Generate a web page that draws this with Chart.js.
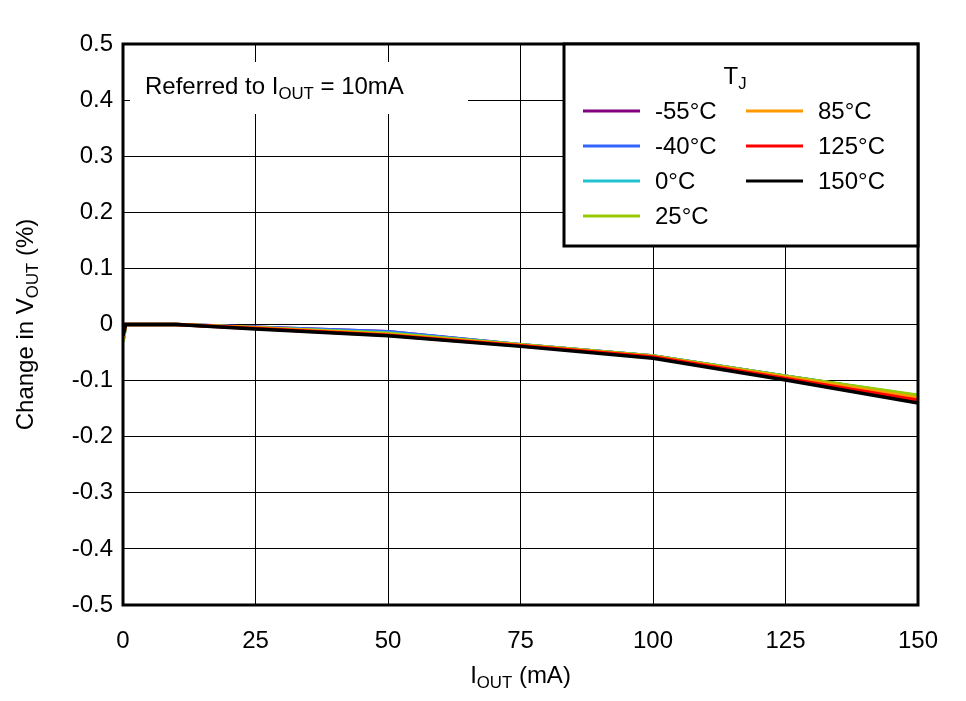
<!DOCTYPE html>
<html><head><meta charset="utf-8">
<script src="https://cdn.jsdelivr.net/npm/chart.js@4/dist/chart.umd.min.js"></script>
<style>html,body{margin:0;background:#fff}#wrap{width:966px;height:701px}</style>
</head><body><div id="wrap"><canvas id="c"></canvas></div>
<script>
const currents = [0, 0.5, 10, 25, 50, 75, 100, 125, 150];
const tempLabels = ["-55°C", "-40°C", "0°C", "25°C", "85°C", "125°C", "150°C"];
const colors = ["#800080", "#3366ff", "#22c3d0", "#99cc00", "#ff9900", "#ff0000", "#000000"];
const vMinus55 = [-0.03, 0, 0, -0.005, -0.013, -0.036, -0.056, -0.092, -0.128];
const vMinus40 = [-0.03, 0, 0, -0.005, -0.013, -0.036, -0.056, -0.092, -0.128];
const v0 = [-0.03, 0, 0, -0.006, -0.015, -0.036, -0.056, -0.092, -0.127];
const v25 = [-0.03, 0, 0, -0.006, -0.016, -0.036, -0.056, -0.092, -0.126];
const v85 = [-0.025, 0, 0, -0.006, -0.018, -0.037, -0.057, -0.094, -0.131];
const v125 = [-0.02, 0, 0, -0.007, -0.019, -0.038, -0.058, -0.096, -0.135];
const v150 = [-0.02, 0, 0, -0.008, -0.02, -0.039, -0.06, -0.099, -0.14];
const allSeries = [vMinus55, vMinus40, v0, v25, v85, v125, v150];
const xTicks = [0, 25, 50, 75, 100, 125, 150];

const FONT = "Arial, 'Liberation Sans', sans-serif";

function subText(ctx, x, y, parts, size, align) {
  ctx.textBaseline = "middle";
  let total = 0;
  parts.forEach(p => { ctx.font = (p[1] ? size * 0.7 : size) + "px " + FONT; total += ctx.measureText(p[0]).width; });
  let cx = align === "center" ? x - total / 2 : x;
  parts.forEach(p => {
    ctx.font = (p[1] ? size * 0.7 : size) + "px " + FONT;
    ctx.textAlign = "left";
    ctx.fillText(p[0], cx, p[1] ? y + size * 0.3 : y);
    cx += ctx.measureText(p[0]).width;
  });
}

const overlay = {
  id: "overlay",
  afterDraw(chart) {
    const ctx = chart.ctx, a = chart.chartArea;
    ctx.save();
    ctx.strokeStyle = "#000"; ctx.lineWidth = 3;
    ctx.strokeRect(a.left, a.top, a.right - a.left, a.bottom - a.top);
    ctx.fillStyle = "#000";
    subText(ctx, (a.left + a.right) / 2, 676, [["I", 0], ["OUT", 1], [" (mA)", 0]], 24, "center");
    ctx.save();
    ctx.translate(26, (a.top + a.bottom) / 2);
    ctx.rotate(-Math.PI / 2);
    subText(ctx, 0, 0, [["Change in V", 0], ["OUT", 1], [" (%)", 0]], 24, "center");
    ctx.restore();
    ctx.fillStyle = "#fff";
    ctx.fillRect(130, 62, 338, 52);
    ctx.fillStyle = "#000";
    subText(ctx, 145, 87, [["Referred to I", 0], ["OUT", 1], [" = 10mA", 0]], 24, "left");
    ctx.fillStyle = "#fff";
    ctx.fillRect(564, 44, 354, 202);
    ctx.strokeRect(564, 44, 354, 202);
    ctx.fillStyle = "#000";
    subText(ctx, 735, 77, [["T", 0], ["J", 1]], 24, "center");
    tempLabels.forEach((t, i) => {
      const col = i < 4 ? 0 : 1, row = i < 4 ? i : i - 4;
      const lx = col ? 746 : 583, y = 111 + row * 35;
      ctx.strokeStyle = colors[i]; ctx.lineWidth = 3;
      ctx.beginPath(); ctx.moveTo(lx, y); ctx.lineTo(lx + 57, y); ctx.stroke();
      ctx.fillStyle = "#000";
      ctx.font = "24px " + FONT; ctx.textAlign = "left"; ctx.textBaseline = "middle";
      ctx.fillText(t, lx + 72, y + 1);
    });
    ctx.restore();
  }
};

new Chart(document.getElementById("c"), {
  type: "line",
  data: {
    datasets: allSeries.map((s, i) => ({
      label: tempLabels[i],
      data: s.map((v, j) => ({ x: currents[j], y: v })),
      borderColor: colors[i], borderWidth: 3.5, pointRadius: 0, tension: 0,
      order: allSeries.length - i
    }))
  },
  options: {
    responsive: true, maintainAspectRatio: false, animation: false,
    layout: { padding: { top: 44, right: 48, left: 0, bottom: 0 } },
    plugins: { legend: { display: false }, tooltip: { enabled: false } },
    scales: {
      x: {
        type: "linear", min: 0, max: 150,
        afterBuildTicks: s => { s.ticks = xTicks.map(v => ({ value: v })); },
        afterFit: s => { s.height = 96; },
        grid: { color: "#000", lineWidth: 1, drawTicks: false },
        border: { display: false },
        ticks: { color: "#000", font: { size: 24, family: FONT }, padding: 22, maxRotation: 0 }
      },
      y: {
        min: -0.5, max: 0.5,
        afterFit: s => { s.width = 123; },
        grid: { color: "#000", lineWidth: 1, drawTicks: false },
        border: { display: false },
        ticks: { stepSize: 0.1, color: "#000", font: { size: 24, family: FONT }, padding: 10,
          callback: v => { const r = Math.round(v * 10) / 10; return r === 0 ? "0" : r.toFixed(1); } }
      }
    }
  },
  plugins: [overlay]
});
</script></body></html>
